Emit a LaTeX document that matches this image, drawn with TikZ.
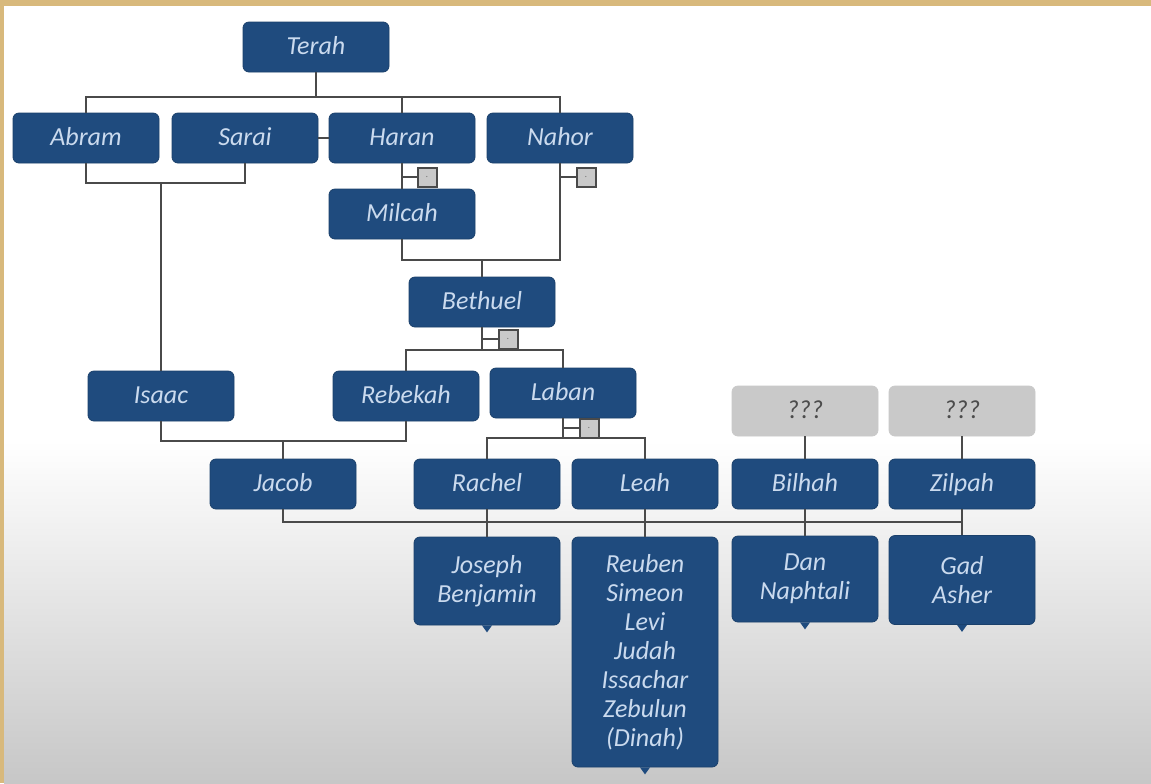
\documentclass[tikz,border=0pt]{standalone}
\usepackage{fontspec}
\setmainfont{Carlito}
\usepackage{tikz}

\definecolor{boxblue}{HTML}{1F4B7E}
\definecolor{boxtext}{HTML}{CADAEE}
\definecolor{boxgray}{HTML}{C9C9C9}
\definecolor{linegray}{HTML}{4A4A4A}
\definecolor{parchment}{HTML}{D8B97C}

\begin{document}
\begin{tikzpicture}[x=0.5pt,y=-0.5pt,
    brood/.style={draw=boxblue!85!black, fill=boxblue, rounded corners=3pt,
      minimum width=73pt, minimum height=25pt, inner sep=2pt, align=center,
      text=boxtext, font=\fontsize{13}{14.5}\selectfont\itshape},
    person/.style={brood, text height=10pt, text depth=3pt},
    unknown/.style={person, draw=boxgray, fill=boxgray, text=black!70},
    toggle/.style={draw=linegray, fill=boxgray, line width=1pt,
      minimum size=9.5pt, inner sep=0pt, text=black!55, font=\tiny},
    link/.style={draw=linegray, line width=1pt}]
    % background
    \useasboundingbox (0,0) rectangle (1151,783);
    \fill[parchment] (0,0) rectangle (1151,783);
    \fill[white] (4,6) rectangle (1151,783);
    \shade[top color=white, bottom color=black!22] (4,440) rectangle (1151,783);

    % people
    \node[person] (terah) at (316, 47) {Terah};
    \node[person] (abram) at (86, 138) {Abram};
    \node[person] (sarai) at (245, 138) {Sarai};
    \node[person] (haran) at (402, 138) {Haran};
    \node[person] (nahor) at (560, 138) {Nahor};
    \node[person] (milcah) at (402, 214) {Milcah};
    \node[person] (bethuel) at (482, 302) {Bethuel};
    \node[person] (isaac) at (161, 396) {Isaac};
    \node[person] (rebekah) at (406, 396) {Rebekah};
    \node[person] (laban) at (563, 393) {Laban};
    \node[unknown] (qa) at (805, 411) {???};
    \node[unknown] (qb) at (962, 411) {???};
    \node[person] (jacob) at (283, 484) {Jacob};
    \node[person] (rachel) at (487, 484) {Rachel};
    \node[person] (leah) at (645, 484) {Leah};
    \node[person] (bilhah) at (805, 484) {Bilhah};
    \node[person] (zilpah) at (962, 484) {Zilpah};
    \node[brood, minimum height=44pt] (joseph) at (487, 581) {Joseph\\Benjamin};
    \node[brood, minimum height=115pt] (leahsons) at (645, 652)
      {Reuben\\Simeon\\Levi\\Judah\\Issachar\\Zebulun\\(Dinah)};
    \node[brood, minimum height=43pt] (dan) at (805, 579) {Dan\\Naphtali};
    \node[brood, minimum height=44.5pt] (gad) at (962, 580) {Gad\\Asher};

    % small markers
    \node[toggle] (ta) at (427, 177) {$\cdot$};
    \node[toggle] (tb) at (586, 177) {$\cdot$};
    \node[toggle] (tc) at (508, 339) {$\cdot$};
    \node[toggle] (td) at (589, 428) {$\cdot$};

    % junctions
    \coordinate (j1) at (316, 97);
    \coordinate (j2) at (161, 183);
    \coordinate (j3) at (482, 260);
    \coordinate (j4) at (482, 350);
    \coordinate (j5) at (283, 441);
    \coordinate (j6) at (563, 438);
    \coordinate (j7) at (962, 522);

    % lines
    \draw[link] (terah.south) -- (j1);
    \draw[link] (abram.north) |- (j1) -| (nahor.north);
    \draw[link] (haran.north) -- (haran.north |- j1);
    \draw[link] (sarai.east) -- (haran.west);
    \draw[link] (abram.south) |- (j2) -| (sarai.south);
    \draw[link] (j2) -- (isaac.north);
    \draw[link] (haran.south) -- (milcah.north);
    \draw[link] (ta.west) -- (ta.west -| haran.south);
    \draw[link] (milcah.south) |- (j3) -| (nahor.south);
    \draw[link] (tb.west) -- (tb.west -| nahor.south);
    \draw[link] (j3) -- (bethuel.north);
    \draw[link] (bethuel.south) -- (j4);
    \draw[link] (tc.west) -- (tc.west -| bethuel.south);
    \draw[link] (rebekah.north) |- (j4) -| (laban.north);
    \draw[link] (isaac.south) |- (j5) -| (rebekah.south);
    \draw[link] (j5) -- (jacob.north);
    \draw[link] (laban.south) -- (j6);
    \draw[link] (td.west) -- (td.west -| laban.south);
    \draw[link] (rachel.north) |- (j6) -| (leah.north);
    \draw[link] (qa.south) -- (bilhah.north);
    \draw[link] (qb.south) -- (zilpah.north);
    \draw[link] (jacob.south) |- (j7);
    \draw[link] (rachel.south) -- (joseph.north);
    \draw[link] (leah.south) -- (leahsons.north);
    \draw[link] (bilhah.south) -- (dan.north);
    \draw[link] (zilpah.south) -- (gad.north);

    % tabs under the children
    \foreach \k in {joseph,leahsons,dan,gad}
      \fill[boxblue] (\k.south) +(-5,0) -- +(5,0) -- +(0,7) -- cycle;
  \end{tikzpicture}
\end{document}
